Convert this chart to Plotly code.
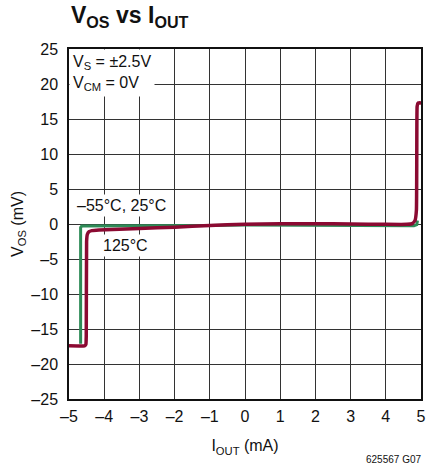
import plotly.graph_objects as go

# 125°C curve (mA, mV)
red_x = [-5.0, -4.56, -4.52, -4.51, -4.5, -4.48, -4.43, -4.35, -4.15, -3.0, -2.0, -1.0, 0.0, 1.0, 2.0, 3.0, 4.0, 4.6, 4.75, 4.83, 4.87, 4.88, 4.89, 4.92, 5.0]
red_y = [-17.4, -17.4, -17.2, -16.0, -2.5, -1.5, -1.1, -0.95, -0.85, -0.65, -0.45, -0.2, -0.05, 0.05, 0.05, 0.0, -0.05, -0.05, 0.05, 0.5, 2.0, 10.0, 16.8, 17.3, 17.3]
# -55°C, 25°C curve
grn_x = [-4.67, -4.67, -4.64, -3.0, -2.0, -1.0, 0.0, 2.0, 4.0, 4.8, 4.88, 4.9]
grn_y = [-17.1, -0.5, -0.3, -0.3, -0.28, -0.22, -0.15, -0.15, -0.25, -0.25, -0.1, 0.5]

x_ticks = [-5, -4, -3, -2, -1, 0, 1, 2, 3, 4, 5]
y_ticks = [-25, -20, -15, -10, -5, 0, 5, 10, 15, 20, 25]

def lbl(v):
    return str(v).replace("-", "\u2013")

FONT = "Liberation Sans, Arial, sans-serif"

fig = go.Figure()
fig.add_trace(go.Scatter(x=grn_x, y=grn_y, mode="lines",
                         line=dict(color="#2e8b57", width=3), showlegend=False,
                         hoverinfo="skip"))
fig.add_trace(go.Scatter(x=red_x, y=red_y, mode="lines",
                         line=dict(color="#8b0a32", width=3.5, shape="spline", smoothing=0.3),
                         showlegend=False, hoverinfo="skip"))

fig.update_layout(
    width=433, height=469,
    margin=dict(l=69, r=12, t=49, b=70, autoexpand=False),
    paper_bgcolor="white", plot_bgcolor="white",
    font=dict(family=FONT, size=16, color="#111"),
    xaxis=dict(range=[-5, 5], tickvals=x_ticks, ticktext=[lbl(v) for v in x_ticks],
               showgrid=True, gridcolor="#333", gridwidth=1, zeroline=False,
               showline=True, linecolor="#111", linewidth=1.5, mirror=True,
               ticks="", fixedrange=True, automargin=False, ticklabelstandoff=2,
               title=dict(text="I<sub>OUT</sub> (mA)", font=dict(size=16), standoff=16)),
    yaxis=dict(range=[-25, 25], tickvals=y_ticks, ticktext=[lbl(v) for v in y_ticks],
               showgrid=True, gridcolor="#333", gridwidth=1, zeroline=False,
               showline=True, linecolor="#111", linewidth=1.5, mirror=True,
               ticks="", fixedrange=True, automargin=False, ticklabelstandoff=6,
               title=dict(text="V<sub>OS</sub> (mV)", font=dict(size=16), standoff=4)),
)

fig.add_annotation(xref="paper", yref="paper", x=0, y=1, xanchor="left", yanchor="top",
                   text="V<sub>S</sub> = ±2.5V<br>V<sub>CM</sub> = 0V", align="left",
                   showarrow=False, bgcolor="white", borderpad=3, font=dict(size=16))
fig.add_annotation(x=-4.86, y=2.6, xanchor="left", yanchor="middle",
                   text="\u201355°C, 25°C", showarrow=False, bgcolor="white",
                   borderpad=2, font=dict(size=16))
fig.add_annotation(x=-4.12, y=-3.0, xanchor="left", yanchor="middle",
                   text="125°C", showarrow=False, bgcolor="white",
                   borderpad=2, font=dict(size=16))
fig.add_annotation(xref="paper", yref="paper", x=0.0, y=1.0, yshift=16,
                   xanchor="left", yanchor="bottom",
                   text="<b>V<sub>OS</sub> vs I<sub>OUT</sub></b>",
                   showarrow=False, font=dict(size=23))
fig.add_annotation(xref="paper", yref="paper", x=1.0, y=0, yshift=-68, xshift=2,
                   xanchor="right", yanchor="bottom",
                   text="625567 G07", showarrow=False, font=dict(size=10))

fig.write_html("out.html", config={"displayModeBar": False},
               post_script="document.body.style.margin='0';")
